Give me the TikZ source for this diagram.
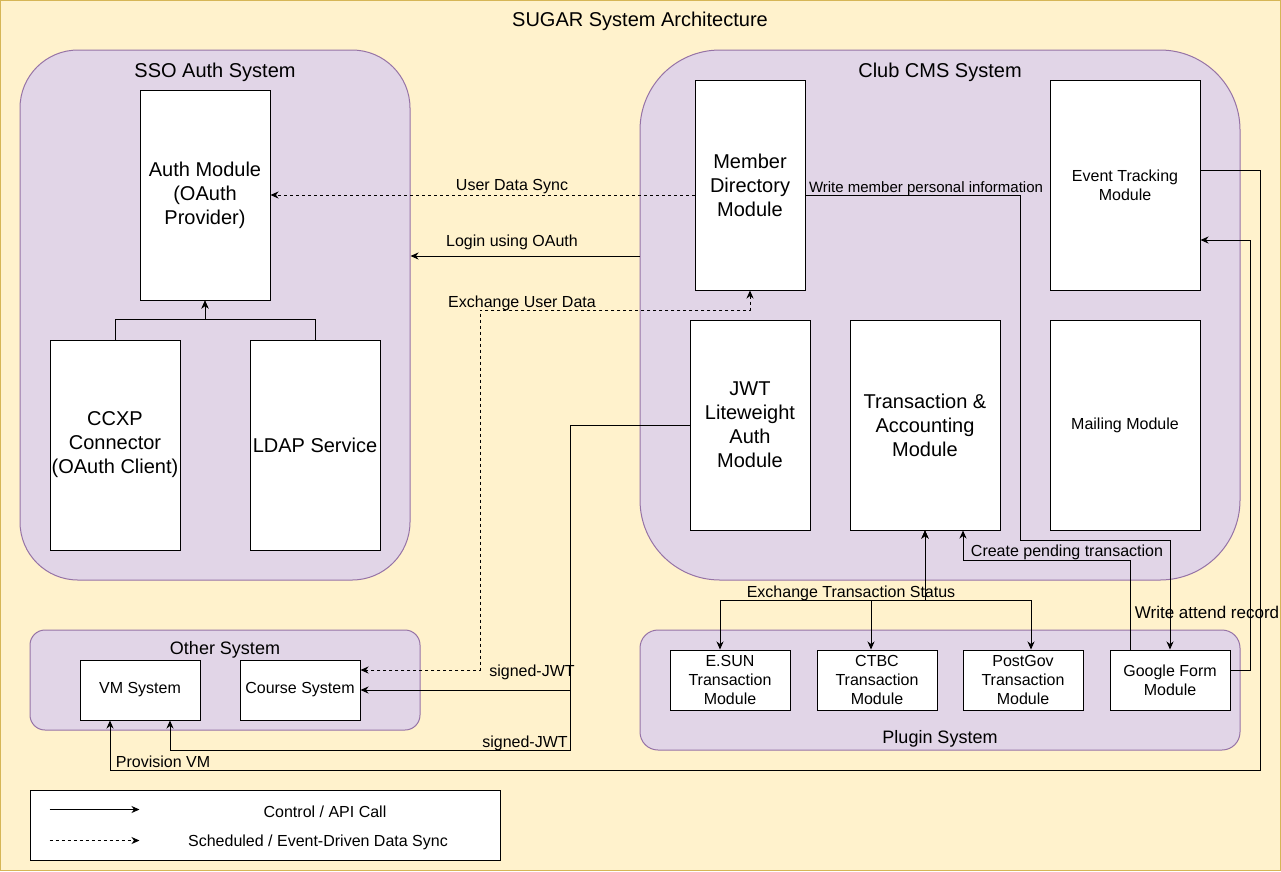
\documentclass[tikz,border=0pt]{standalone}
\usepackage{fontspec}
\setmainfont{Liberation Sans}
\usetikzlibrary{arrows.meta}
\definecolor{bgfill}{HTML}{FFF2CC}
\definecolor{bgline}{HTML}{D6B656}
\definecolor{grpfill}{HTML}{E1D5E7}
\definecolor{grpline}{HTML}{9673A6}
\tikzset{
  >={Stealth[length=8pt,width=7pt,inset=2.5pt]},
  group/.style={draw=grpline,fill=grpfill,line width=1pt,inner sep=0pt},
  module/.style={draw,fill=white,line width=1pt,inner sep=0pt,align=center,
    font=\fontsize{20}{24}\selectfont},
  smallmod/.style={module,font=\fontsize{16}{19.2}\selectfont},
  flow/.style={line width=1pt,->},
  sync/.style={flow,dash pattern=on 3pt off 3pt},
  lbl/.style={inner sep=0pt,yshift=-2pt,font=\fontsize{16}{19.2}\selectfont},
}
\begin{document}
\begin{tikzpicture}[x=1pt,y=-1pt]
  \useasboundingbox (0,0) rectangle (1281,871);
  \draw[bgline,fill=bgfill,line width=1pt] (0.5,0.5) rectangle (1280.5,870.5);
  \node[lbl,font=\fontsize{20}{24}\selectfont] (title) at (640,19) {SUGAR System Architecture};

  \node[group,rounded corners=58pt,minimum width=390,minimum height=530] (sso) at (215,315) {};
  \node[group,rounded corners=80pt,minimum width=600,minimum height=530] (cms) at (940,315) {};
  \node[group,rounded corners=15pt,minimum width=390,minimum height=100] (other) at (225,680) {};
  \node[group,rounded corners=18pt,minimum width=600,minimum height=120] (plugin) at (940,690) {};
  \node[lbl,font=\fontsize{20}{24}\selectfont] at (215,70) {SSO Auth System};
  \node[lbl,font=\fontsize{20}{24}\selectfont] at (940,70) {Club CMS System};
  \node[lbl,font=\fontsize{18}{21.6}\selectfont] at (225,648) {Other System};
  \node[lbl,font=\fontsize{18}{21.6}\selectfont] at (940,737) {Plugin System};

  \node[module,minimum width=130,minimum height=210] (auth) at (205,195) {Auth Module\\(OAuth\\Provider)};
  \node[module,minimum width=130,minimum height=210] (ccxp) at (115,445) {CCXP\\Connector\\(OAuth Client)};
  \node[module,minimum width=130,minimum height=210] (ldap) at (315,445) {LDAP Service};

  \node[module,minimum width=110,minimum height=210] (member) at (750,185) {Member\\Directory\\Module};
  \node[module,minimum width=120,minimum height=210] (jwt) at (750,425) {JWT\\Liteweight\\Auth\\Module};
  \node[module,minimum width=150,minimum height=210] (trans) at (925,425) {Transaction \&\\Accounting\\Module};
  \node[smallmod,minimum width=150,minimum height=210] (event) at (1125,185) {Event Tracking\\Module};
  \node[smallmod,minimum width=150,minimum height=210] (mailing) at (1125,425) {Mailing Module};

  \node[smallmod,minimum width=120,minimum height=60] (vm) at (140,690) {VM System};
  \node[smallmod,minimum width=120,minimum height=60] (course) at (300,690) {Course System};

  \node[smallmod,minimum width=120,minimum height=60] (esun) at (730,680) {E.SUN\\Transaction\\Module};
  \node[smallmod,minimum width=120,minimum height=60] (ctbc) at (877,680) {CTBC\\Transaction\\Module};
  \node[smallmod,minimum width=120,minimum height=60] (postgov) at (1023,680) {PostGov\\Transaction\\Module};
  \node[smallmod,minimum width=120,minimum height=60] (gform) at (1170,680) {Google Form\\Module};

  \draw[flow] (ccxp.north) -- ++(0,-20) -| (auth.south);
  \draw[flow] (ldap.north) -- ++(0,-20) -| (auth.south);

  \draw[sync] ([yshift=-10pt]member.west) -- (auth.east);
  \node[lbl] at (512,185) {User Data Sync};
  \draw[flow] (cms.west |- 0,256) -- (sso.east |- 0,256);
  \node[lbl] at (512,240) {Login using OAuth};
  \draw[sync,<->] (member.south) |- (480,310) |- ([yshift=20pt]course.east);
  \node[lbl] at (522,301) {Exchange User Data};

  \draw[flow] (jwt.west) -| (570,690) -- (course.east);
  \node[lbl] at (532,670) {signed-JWT};
  \draw[flow] (jwt.west) -| (570,750) -| ([xshift=30pt]vm.south);
  \node[lbl] at (525,741) {signed-JWT};
  \draw[flow] ([yshift=15pt]event.east) -| (1260,770) -| ([xshift=-30pt]vm.south);
  \node[lbl] at (163,760) {Provision VM};

  \draw[flow] ([yshift=-10pt]member.east) -| (1020,540) -| (gform.north);
  \node[lbl,font=\fontsize{15}{18}\selectfont] at (926,187) {Write member personal information};
  \draw[flow] ([yshift=10pt]gform.east) -| (1250,240) -- (event.east |- 0,240);
  \node[lbl,font=\fontsize{17}{20}\selectfont] at (1207,610) {Write attend record};
  \draw[flow] ([xshift=-40pt]gform.north) |- (963,560) -- ([xshift=38pt]trans.south);
  \node[lbl] at (1067,550) {Create pending transaction};

  \foreach \m/\dx in {esun/-10,ctbc/-6,postgov/8}
    \draw[flow,<->] (trans.south) -- (trans.south |- 0,600) -| ([xshift=\dx pt]\m.north);
  \node[lbl] at (851,591) {Exchange Transaction Status};

  \node[draw,fill=white,line width=1pt,minimum width=470,minimum height=70] (legend) at (265,825) {};
  \draw[flow] ([shift={(20pt,-20pt)}]legend.north west) -- ++(90,0);
  \draw[sync] ([shift={(20pt,20pt)}]legend.south west) -- ++(90,0);
  \node[lbl] at (325,810) {Control / API Call};
  \node[lbl] at (318,840) {Scheduled / Event-Driven Data Sync};
\end{tikzpicture}
\end{document}
